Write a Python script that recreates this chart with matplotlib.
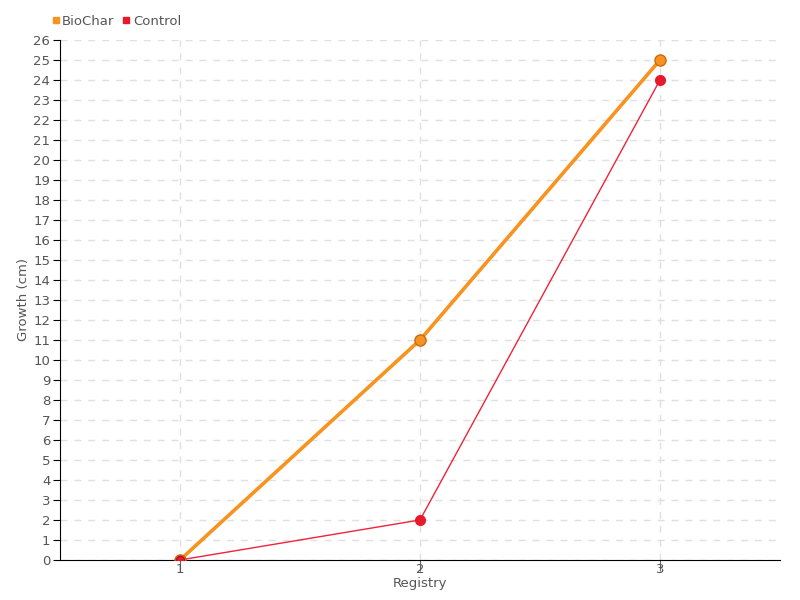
import matplotlib
matplotlib.use("Agg")
import matplotlib.pyplot as plt
from matplotlib.lines import Line2D

registry = [1, 2, 3]
biochar = [0, 11, 25]
control = [0, 2, 24]
yticks = list(range(0, 27))

plt.rcParams['font.family'] = ['DejaVu Sans']

fig = plt.figure(figsize=(8, 6), dpi=100)
ax = fig.add_axes([0.075, 0.0667, 0.9, 0.8667])

ax.plot(registry, control, color='#f0233a', lw=1, zorder=3)
ax.plot(registry, control, 'o', color='#e8192c', ms=7, mec='#e8192c', zorder=3)
ax.plot(registry, biochar, color='#f7931e', lw=2.6, zorder=4)
ax.plot(registry, biochar, 'o', color='#f7931e', ms=8, mec='#c96a10', mew=1, zorder=5)
ax.plot(registry[:1], control[:1], 'o', color='#e8192c', ms=6, mec='#b5121f', zorder=6)

ax.set_xlim(0.5, 3.5)
ax.set_ylim(0, 26)
ax.set_xticks(registry)
ax.set_xticklabels([str(r) for r in registry])
ax.set_yticks(yticks)
ax.grid(True, color='#e0e0e0', ls=(0, (5, 5)), lw=1)
ax.set_axisbelow(True)
for s in ['top', 'right']:
    ax.spines[s].set_visible(False)
ax.spines['left'].set_color('black')
ax.spines['bottom'].set_color('black')
ax.tick_params(axis='both', colors='#555555', labelsize=9.5, length=5)
ax.tick_params(axis='y', color='black', pad=2)
ax.tick_params(axis='x', color='#666666', length=8, pad=-6)
ax.set_xlabel('Registry', color='#555555', fontsize=9.5, labelpad=1)
ax.set_ylabel('Growth (cm)', color='#555555', fontsize=9.5, labelpad=2)

handles = [Line2D([], [], marker='s', ls='', color='#f7931e', ms=5),
           Line2D([], [], marker='s', ls='', color='#e8192c', ms=5)]
fig.legend(handles, ['BioChar', 'Control'], loc='upper left', bbox_to_anchor=(0.048, 0.995),
           ncol=2, frameon=False, fontsize=9.5, handletextpad=0.1, columnspacing=0.5,
           labelcolor='#555555', handlelength=0.8)

fig.savefig('out.png', dpi=100)
